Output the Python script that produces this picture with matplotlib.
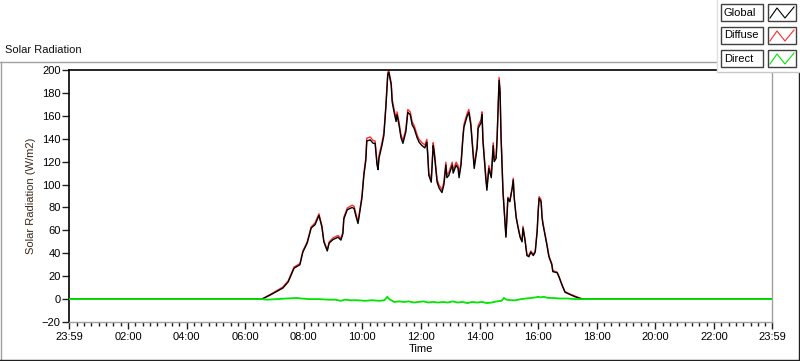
import matplotlib
matplotlib.use("Agg")
import matplotlib.pyplot as plt
from matplotlib.lines import Line2D
from matplotlib.patches import Rectangle
import numpy as np

plt.rcParams["font.family"] = ["Liberation Sans", "DejaVu Sans"]
plt.rcParams["font.size"] = 8

# ── Data ──────────────────────────────────────────────────────────────────────
times = [
    "00:00", "06:34", "06:51", "07:17", "07:28", "07:32", "07:40", "07:52", "07:58", "08:07",
    "08:15", "08:23", "08:31", "08:37", "08:41", "08:48", "08:52", "09:00", "09:10", "09:16",
    "09:20", "09:22", "09:29", "09:39", "09:43", "09:47", "09:51", "09:59", "10:03", "10:07",
    "10:09", "10:16", "10:22", "10:26", "10:30", "10:32", "10:34", "10:40", "10:44", "10:48",
    "10:52", "10:54", "10:59", "11:01", "11:05", "11:09", "11:11", "11:15", "11:19", "11:23",
    "11:29", "11:33", "11:38", "11:42", "11:46", "11:52", "11:56", "12:02", "12:08", "12:12",
    "12:14", "12:16", "12:21", "12:25", "12:27", "12:31", "12:33", "12:37", "12:43", "12:47",
    "12:51", "12:53", "12:57", "13:04", "13:06", "13:12", "13:16", "13:18", "13:22", "13:26",
    "13:28", "13:34", "13:38", "13:42", "13:45", "13:49", "13:55", "13:57", "14:03", "14:05",
    "14:07", "14:13", "14:15", "14:19", "14:24", "14:28", "14:30", "14:34", "14:36", "14:40",
    "14:42", "14:44", "14:48", "14:54", "14:56", "14:58", "15:02", "15:07", "15:09", "15:11",
    "15:15", "15:19", "15:23", "15:27", "15:29", "15:33", "15:37", "15:41", "15:45", "15:50",
    "15:54", "15:58", "16:00", "16:02", "16:06", "16:08", "16:10", "16:14", "16:18", "16:22",
    "16:28", "16:30", "16:39", "16:43", "16:49", "16:55", "17:05", "17:16", "17:26", "17:32",
    "23:58",
]

global_rad = [
    0, 0, 3.5, 9.6, 15, 19, 27, 30, 41, 49,
    62, 65, 73, 63, 50, 42, 49, 52, 54, 51.5,
    57, 70, 78, 80, 79, 72, 66, 88, 108, 121,
    138, 139, 136, 136, 117, 113, 123, 134, 143, 167,
    196, 198, 187, 172, 163, 155, 161, 152, 141, 136,
    146, 163, 161, 152, 149, 141, 137, 134, 132, 137,
    124, 108, 102, 134, 128, 111, 102, 97, 93, 100,
    117, 106, 108, 117, 110, 117, 114, 106, 117, 141,
    150, 159, 163, 152, 136, 114, 132, 149, 154, 161,
    137, 104, 95, 114, 106, 134, 120, 123, 141, 191,
    180, 141, 93, 54, 71, 88, 85, 97, 104, 88,
    71, 62, 54, 50, 62, 51.5, 38, 37, 41, 38,
    41, 59, 76, 88, 85, 71, 65, 56, 47, 37,
    30, 24, 23, 19, 12, 6, 4, 2, 0.5, 0,
    0,
]

diffuse_rad = [
    0, 0, 4, 10.5, 16, 20, 28, 31, 42, 50,
    63, 66.5, 74.5, 64, 51, 43, 50, 53.5, 55.5, 53,
    58.5, 71.5, 79.5, 82, 81, 74, 67.5, 90, 110, 123.5,
    140.5, 141.5, 138.5, 138, 119, 115, 125.5, 136.5, 145.5, 169,
    198, 199.5, 189, 174.5, 165.5, 157.5, 163.5, 154.5, 143.5, 138.5,
    148.5, 165.5, 163.5, 154.5, 151.5, 143.5, 139.5, 136.5, 134.5, 139.5,
    126.5, 110.5, 104.5, 136.5, 130.5, 113.5, 104.5, 99.5, 95.5, 102.5,
    119.5, 108.5, 110.5, 119.5, 112.5, 119.5, 116.5, 108.5, 119.5, 143.5,
    152.5, 161.5, 165.5, 154.5, 138.5, 116.5, 134.5, 151.5, 156.5, 163.5,
    139.5, 106.5, 97.5, 116.5, 108.5, 136.5, 122.5, 125.5, 143.5, 193.5,
    182.5, 143.5, 95, 55, 72, 89, 86, 98, 105.5, 89,
    72, 63, 55, 51, 63.5, 52.5, 39, 38, 42, 39,
    42, 60.5, 77.5, 89.5, 86.5, 72, 66, 57, 48, 38,
    31, 25, 23.5, 19.5, 12.5, 6.5, 4.5, 2.5, 1, 0,
    0,
]

direct_times = [
    "00:00", "06:34", "06:45", "07:05", "07:25", "07:45", "07:55", "08:10", "08:30", "08:50",
    "09:05", "09:15", "09:25", "09:35", "09:50", "10:05", "10:20", "10:35", "10:45", "10:51",
    "10:55", "11:05", "11:15", "11:25", "11:35", "11:45", "11:55", "12:05", "12:15", "12:25",
    "12:35", "12:45", "12:55", "13:05", "13:15", "13:25", "13:35", "13:45", "13:55", "14:05",
    "14:15", "14:25", "14:35", "14:45", "14:50", "14:55", "15:05", "15:15", "15:25", "15:35",
    "15:45", "15:55", "16:00", "16:05", "16:12", "16:20", "16:30", "16:45", "17:00", "17:15",
    "17:30", "23:58",
]

direct_rad = [
    0, 0, -0.5, 0, 0.5, 1, 0.5, 0, 0, -0.5,
    -0.5, -1.5, -0.5, -1, -1, -1.5, -1, -1.5, -1, 2,
    0, -2.5, -2, -2.5, -2, -3, -2.5, -2, -3, -2.5,
    -3, -2.5, -3, -2, -3, -2.5, -3.5, -2.5, -3, -2.5,
    -3.5, -3, -2, -1.5, 1, -0.5, -1, -1, 0, 0.5,
    1, 1.5, 2, 1.5, 2, 1, 1, 0.5, 0.5, 0,
    0, 0,
]

series_names = ["Global", "Diffuse", "Direct"]
series_colors = ["#000000", "#ff2a2a", "#00e600"]

x_tick_labels = ["23:59", "02:00", "04:00", "06:00", "08:00", "10:00", "12:00",
                 "14:00", "16:00", "18:00", "20:00", "22:00", "23:59"]
y_ticks = [-20, 0, 20, 40, 60, 80, 100, 120, 140, 160, 180, 200]


def to_minutes(labels):
    out = []
    for s in labels:
        h, m = s.split(":")
        out.append(int(h) * 60 + int(m))
    return np.array(out)


W, H = 800, 361


def fx(px):
    return px / W


def fy(py):
    return 1 - py / H


fig = plt.figure(figsize=(8.0, 3.61), dpi=100)
fig.patch.set_facecolor("white")

# outer panel frame
frame_kw = dict(transform=fig.transFigure, linewidth=1.0)
fig.add_artist(Line2D([fx(0), fx(717)], [fy(61.5), fy(61.5)], color="#a0a0a0", **frame_kw))
fig.add_artist(Line2D([fx(0.5), fx(0.5)], [fy(61.5), fy(360)], color="#a0a0a0", **frame_kw))
fig.add_artist(Line2D([fx(0), fx(799)], [fy(360), fy(360)], color="#202020", **frame_kw))
fig.add_artist(Line2D([fx(798.5), fx(798.5)], [fy(72), fy(360)], color="#202020", **frame_kw))

fig.text(fx(5), fy(50), "Solar Radiation", ha="left", va="center", fontsize=8, color="#101010")

# plot area
ax = fig.add_axes([fx(69), fy(322), fx(772) - fx(69), fy(70) - fy(322)])
ax.set_facecolor("white")

t_main = to_minutes(times)
t_direct = to_minutes(direct_times)
ax.plot(t_main, global_rad, color=series_colors[0], linewidth=1.0, zorder=3)
ax.plot(t_main, diffuse_rad, color=series_colors[1], linewidth=1.0, zorder=2)
ax.plot(t_direct, direct_rad, color=series_colors[2], linewidth=1.3, zorder=4)

ax.set_xlim(-1, 1439)
ax.set_ylim(-20, 200)

major_x = [-1] + list(range(120, 1440, 120)) + [1439]
ax.set_xticks(major_x)
ax.set_xticklabels(x_tick_labels)
minor_x = [m for m in range(15, 1439, 15) if m % 120 != 0]
ax.set_xticks(minor_x, minor=True)
ax.set_yticks(y_ticks)

ax.tick_params(axis="x", which="major", length=5, width=1, color="#202020",
               labelsize=8, pad=2, direction="out")
ax.tick_params(axis="x", which="minor", length=3, width=1, color="#202020", direction="out")
ax.tick_params(axis="y", which="major", length=5, width=1, color="#202020",
               labelsize=8, pad=1, direction="out")

for side in ("top", "left"):
    ax.spines[side].set_color("#000000")
    ax.spines[side].set_linewidth(1.2)
for side in ("bottom", "right"):
    ax.spines[side].set_color("#a0a0a0")
    ax.spines[side].set_linewidth(1.0)

ax.set_xlabel("Time", fontsize=8, labelpad=2)
ax.set_ylabel("Solar Radiation (W/m2)", fontsize=8, labelpad=4, color="#3a2a1a")

# legend panel (drawn by hand in figure pixels)
fig.add_artist(Rectangle((fx(717), fy(72)), fx(800) - fx(717), fy(0) - fy(72),
                         transform=fig.transFigure, facecolor="white",
                         edgecolor="none", zorder=5))
fig.add_artist(Line2D([fx(717), fx(800)], [fy(72), fy(72)], color="#c8c8c8",
                      transform=fig.transFigure, linewidth=1.0, zorder=6))
fig.add_artist(Line2D([fx(717), fx(717)], [fy(0), fy(72)], color="#e0e0e0",
                      transform=fig.transFigure, linewidth=1.0, zorder=6))

row_tops = [4, 27, 50]
for name, color, top in zip(series_names, series_colors, row_tops):
    bottom = top + 17
    fig.add_artist(Rectangle((fx(721), fy(bottom)), fx(763) - fx(721), fy(top) - fy(bottom),
                             transform=fig.transFigure, facecolor="white",
                             edgecolor="#404040", linewidth=1.0, zorder=7))
    fig.text(fx(724), fy((top + bottom) / 2), name, ha="left", va="center",
             fontsize=8, color="#000000", zorder=8)
    fig.add_artist(Rectangle((fx(768), fy(bottom)), fx(796) - fx(768), fy(top) - fy(bottom),
                             transform=fig.transFigure, facecolor="white",
                             edgecolor="#404040", linewidth=1.0, zorder=7))
    zig_x = [770, 777, 785, 794]
    zig_y = [bottom - 3, top + 4, bottom - 3, top + 3]
    fig.add_artist(Line2D([fx(v) for v in zig_x], [fy(v) for v in zig_y], color=color,
                          transform=fig.transFigure, linewidth=0.8, zorder=8))

fig.savefig("out.png", dpi=100, facecolor="white")
